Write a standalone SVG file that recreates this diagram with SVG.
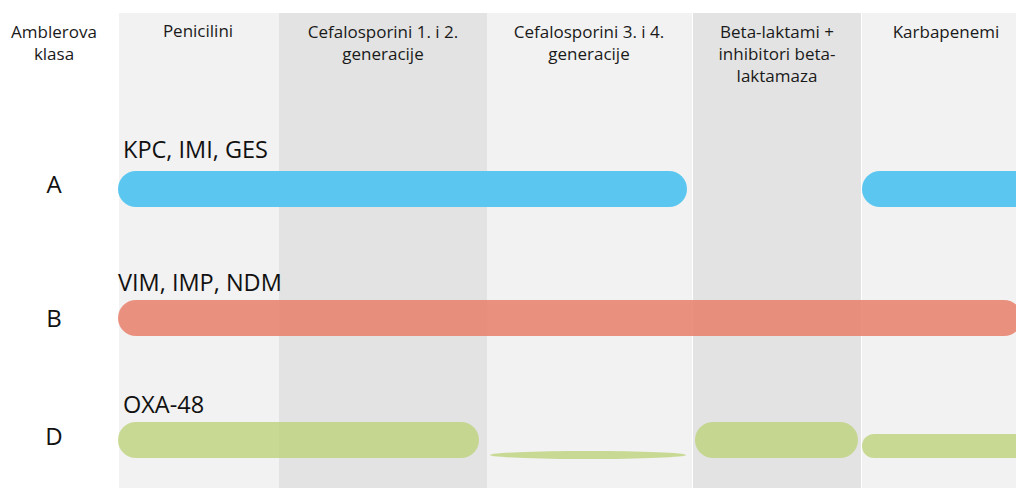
<svg xmlns="http://www.w3.org/2000/svg" width="1016" height="488" viewBox="0 0 1016 488">
<style>
.hd{font-family:"Open Sans","Liberation Sans",sans-serif;font-size:17px;fill:#1a1a1a;text-anchor:middle}
.row{font-family:"Open Sans","Liberation Sans",sans-serif;font-size:24px;fill:#111;text-anchor:middle}
.lbl{font-family:"Open Sans","Liberation Sans",sans-serif;font-size:23.5px;fill:#111}
.light{fill:#f2f2f2}
.dark{fill:#e3e3e3}
.a{fill:#5bc6f0}
.b{fill:#e8806a;opacity:0.85}
.d{fill:#bcd27a;opacity:0.78}
</style>
<rect width="1016" height="488" fill="#ffffff"/>
<g id="columns">
<rect class="light" x="119" y="13" width="160" height="475"/>
<rect class="dark" x="279" y="13" width="208" height="475"/>
<rect class="light" x="487" y="13" width="205" height="475"/>
<rect class="dark" x="693" y="13" width="168" height="475"/>
<rect class="light" x="862" y="13" width="154" height="475"/>
</g>
<g id="headers">
<text class="hd" x="54" y="38">Amblerova</text>
<text class="hd" x="54" y="60">klasa</text>
<text class="hd" x="198" y="37">Penicilini</text>
<text class="hd" x="383" y="38">Cefalosporini 1. i 2.</text>
<text class="hd" x="383" y="60">generacije</text>
<text class="hd" x="589" y="38">Cefalosporini 3. i 4.</text>
<text class="hd" x="589" y="60">generacije</text>
<text class="hd" x="777" y="38">Beta-laktami +</text>
<text class="hd" x="777" y="60">inhibitori beta-</text>
<text class="hd" x="777" y="82">laktamaza</text>
<text class="hd" x="946" y="38">Karbapenemi</text>
</g>
<g id="row-A">
<text class="row" x="54" y="193">A</text>
<text class="lbl" x="123" y="158">KPC, IMI, GES</text>
<rect class="a" x="118" y="171" width="569" height="36" rx="18"/>
<rect class="a" x="862" y="171" width="170" height="36" rx="18"/>
</g>
<g id="row-B">
<text class="row" x="54" y="327">B</text>
<text class="lbl" x="118" y="291">VIM, IMP, NDM</text>
<rect class="b" x="118" y="300" width="904" height="36" rx="18"/>
</g>
<g id="row-D">
<text class="row" x="54" y="445">D</text>
<text class="lbl" x="123" y="413">OXA-48</text>
<rect class="d" x="118" y="422" width="361" height="36" rx="18"/>
<rect class="d" x="490" y="451" width="196" height="8" rx="98" ry="4"/>
<rect class="d" x="695" y="422" width="163" height="36" rx="18"/>
<rect class="d" x="862" y="434" width="170" height="24" rx="12"/>
</g>
<g id="connectors"/>
</svg>
